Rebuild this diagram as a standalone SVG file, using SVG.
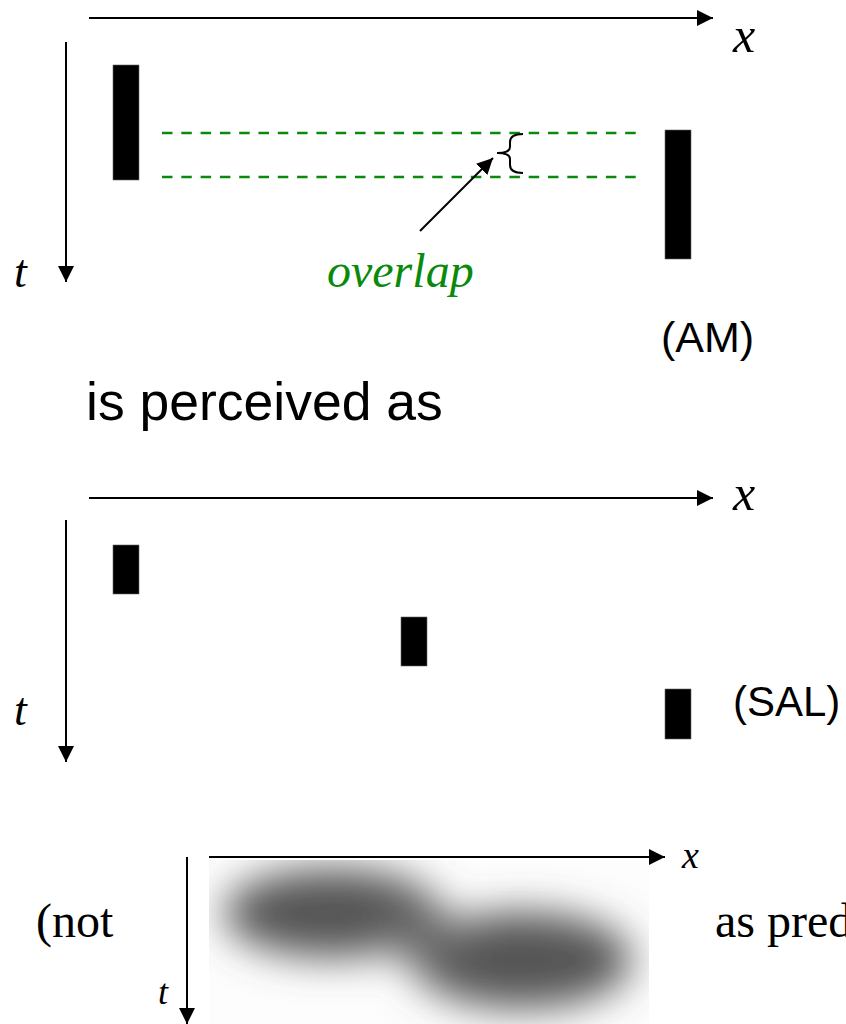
<svg xmlns="http://www.w3.org/2000/svg" width="846" height="1024" viewBox="0 0 846 1024">
<style>
.ax{stroke:#000;stroke-width:2;fill:none}
.bar{fill:#000;stroke:#666;stroke-width:0.6}
.var{font-family:"Liberation Serif","Times New Roman",serif;font-style:italic;fill:#000}
.sans{font-family:"Liberation Sans",Arial,sans-serif;fill:#000}
.serif{font-family:"Liberation Serif","Times New Roman",serif;fill:#000}
.dash{stroke:#0a8a0a;stroke-width:2.6;stroke-dasharray:10.5 8.8;fill:none}
</style>
<defs>
<marker id="ah" viewBox="0 0 16 16" refX="16" refY="8" markerWidth="16" markerHeight="16" markerUnits="userSpaceOnUse" orient="auto">
<path d="M0,0 L16,8 L0,16 Z" fill="#000"/>
</marker>
<filter id="blur" x="-50%" y="-50%" width="200%" height="200%">
<feGaussianBlur stdDeviation="20"/>
</filter>
<clipPath id="imgclip"><rect x="209" y="860" width="440" height="164"/></clipPath>
</defs>

<g id="connectors">
<line class="ax" x1="89" y1="18" x2="713" y2="18" marker-end="url(#ah)"/>
<line class="ax" x1="66" y1="42" x2="66" y2="282" marker-end="url(#ah)"/>
<line class="ax" x1="89" y1="498" x2="713" y2="498" marker-end="url(#ah)"/>
<line class="ax" x1="66" y1="520" x2="66" y2="762" marker-end="url(#ah)"/>
<line class="ax" x1="209" y1="857" x2="665" y2="857" marker-end="url(#ah)"/>
<line class="ax" x1="187" y1="857" x2="187" y2="1024" marker-end="url(#ah)"/>
<line class="dash" x1="162" y1="133" x2="640" y2="133"/>
<line class="dash" x1="162" y1="177" x2="640" y2="177"/>
<line class="ax" x1="420" y1="231" x2="493" y2="158" marker-end="url(#ah)"/>
<path class="ax" d="M523,134 Q510,134 510,142 L510,147 Q510,153 497,153 Q510,153 510,159 L510,165 Q510,173 523,173"/>
</g>

<g id="top-labels">
<text class="var" x="733" y="52" font-size="50">x</text>
<text class="var" x="14" y="287" font-size="46">t</text>
<text class="var" x="327" y="287" font-size="48" style="fill:#0a8a0a">overlap</text>
<text class="sans" x="661" y="352" font-size="43">(AM)</text>
</g>
<g id="bar-am-1"><rect class="bar" x="113" y="65" width="26" height="115"/></g>
<g id="bar-am-2"><rect class="bar" x="665" y="130" width="26" height="129"/></g>

<g id="caption"><text class="sans" x="86" y="420" font-size="53.5">is perceived as</text></g>

<g id="mid-labels">
<text class="var" x="733" y="510" font-size="50">x</text>
<text class="var" x="14" y="725" font-size="46">t</text>
<text class="sans" x="733" y="716" font-size="42">(SAL)</text>
</g>
<g id="bar-sal-1"><rect class="bar" x="113" y="545" width="26" height="49"/></g>
<g id="bar-sal-2"><rect class="bar" x="401" y="617" width="26" height="49"/></g>
<g id="bar-sal-3"><rect class="bar" x="665" y="689" width="26" height="50"/></g>

<g id="blur-image">
<rect x="209" y="860" width="440" height="164" fill="#fdfdfd"/>
<g clip-path="url(#imgclip)" filter="url(#blur)">
<ellipse cx="332" cy="913" rx="108" ry="44" fill="#555"/>
<ellipse cx="522" cy="960" rx="110" ry="48" fill="#555"/>
<ellipse cx="425" cy="936" rx="50" ry="24" fill="#6a6a6a"/>
</g>
</g>

<g id="bottom-labels">
<text class="var" x="682" y="868" font-size="38">x</text>
<text class="var" x="158" y="1004" font-size="36">t</text>
<text class="serif" x="36" y="937" font-size="48">(not</text>
<text class="serif" x="715" y="937" font-size="48">as pred</text>
</g>
</svg>
